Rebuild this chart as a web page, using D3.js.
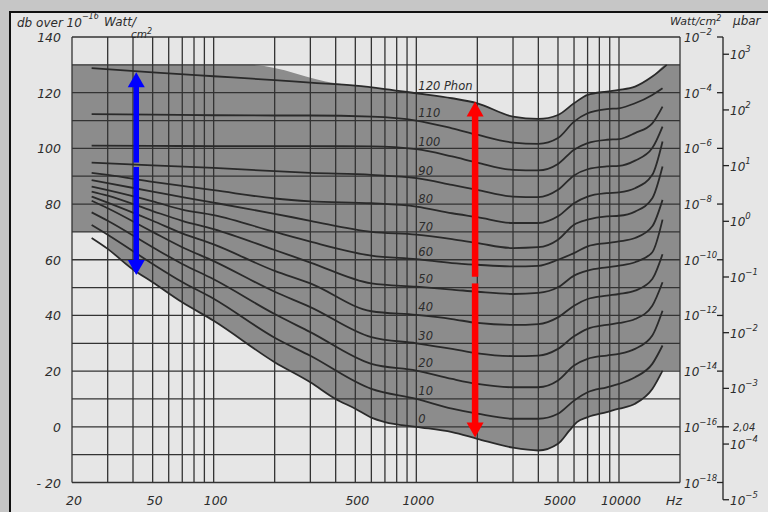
<!DOCTYPE html>
<html>
<head>
<meta charset="utf-8">
<script src="https://cdn.jsdelivr.net/npm/d3@7/dist/d3.min.js"></script>
<style>
body { margin: 0; background: #c6c6c6; }
svg { display: block; }
text { font-family: "DejaVu Sans", sans-serif; font-style: italic; fill: #2c2c2c; }
</style>
</head>
<body>
<svg id="viz" width="768" height="512"></svg>
<script>
// equal loudness contours: [Hz, dB]
const phon0 = [[25,67.8],[30,63.9],[40,56.5],[50,51.9],[70,44.7],[100,38.1],[200,23.2],[300,16],[400,10],[500,6.5],[600,3.3],[700,1.7],[1000,0],[1500,-1.9],[2000,-4.3],[3000,-7.5],[4000,-8.5],[5000,-6.1],[5700,-1.3],[6200,1.7],[7000,3.5],[8700,5.3],[10000,6.5],[12000,8.3],[14600,13.6],[16400,20.2]];
const phon10 = [[25,72.5],[30,69],[50,58.5],[70,52],[100,46],[200,32],[300,25.5],[600,13.6],[1000,10],[1500,6.5],[2000,4.7],[3000,2.9],[4000,2.9],[5000,4.7],[6000,9.4],[7000,12.4],[8700,14.2],[10000,15.4],[12000,17.8],[14600,22.6],[16400,29.2]];
const phon20 = [[25,77],[30,74],[50,64.5],[70,58.5],[100,53],[200,40.5],[300,34],[600,22.6],[1000,20.2],[1500,17.2],[2000,15.4],[3000,14.2],[4000,14.2],[5000,16.6],[6000,22],[7000,24.4],[8700,25.6],[10000,26.2],[12000,28],[14600,32.8],[16400,41.7]];
const phon30 = [[25,81.2],[30,78.5],[50,70],[70,64.5],[100,59.5],[200,48.5],[300,43],[600,32.2],[1000,30],[1500,28],[2000,26.4],[3000,25.4],[4000,25.6],[5000,28],[6000,32.5],[7000,35.2],[8700,36.6],[10000,37.3],[12000,38.7],[14600,43.5],[16400,51.9]];
const phon40 = [[25,82.7],[30,80.5],[50,74],[70,69.5],[100,65.5],[200,56],[300,51.5],[600,41.5],[1000,40.2],[1500,38.7],[2000,37.3],[3000,36.6],[4000,36.9],[5000,39.3],[6000,43.5],[7000,45.9],[8700,47.1],[10000,47.7],[12000,48.9],[14600,53.1],[16400,62]];
const phon50 = [[25,84.5],[30,83],[50,77.5],[70,74],[100,71],[200,63.5],[300,59],[600,51.5],[1000,50.3],[1500,49.3],[2000,48.5],[3000,47.7],[4000,48.1],[5000,50.1],[6000,54.3],[7000,56.1],[8700,57.3],[10000,57.9],[12000,59.1],[14600,62.7],[16400,74.4]];
const phon60 = [[25,86.3],[30,85],[50,81],[70,78],[100,76],[200,70],[300,66.5],[600,61.5],[1000,60.2],[1500,58.8],[2000,58.2],[3000,57.6],[4000,57.8],[5000,60],[6000,62.4],[7000,64.8],[8700,66],[10000,66.6],[12000,67.8],[14600,72],[16400,81.5]];
const phon70 = [[25,88.6],[30,87.5],[50,84.5],[70,82.5],[100,80.5],[200,76.5],[300,74],[600,70],[1000,69],[1500,67.4],[2000,66],[3000,64.2],[4000,64.5],[5000,67.2],[6000,72.6],[7000,74.4],[8700,75.6],[10000,75.8],[12000,77.3],[14600,82.1],[16400,93.5]];
const phon80 = [[25,91.2],[30,90.5],[50,88],[70,86.5],[100,85],[200,82],[300,81],[600,80.3],[1000,79.1],[1500,76.7],[2000,75.3],[3000,73.2],[4000,73.2],[5000,75.6],[6000,80.3],[7000,82.7],[8700,83.9],[10000,84.2],[12000,85.7],[14600,90.5],[16400,102.5]];
const phon90 = [[25,94.9],[50,93.9],[100,93],[200,91.8],[300,91.2],[600,90.5],[1000,89.3],[1500,86.9],[2000,85.1],[3000,82.7],[4000,82.5],[5000,85.1],[6000,90.3],[7000,92.5],[8700,93.5],[10000,93.7],[12000,95.6],[14600,100.1],[16400,107.8]];
const phon100 = [[25,101],[50,100.9],[100,100.8],[300,100.8],[600,100.7],[1000,99.7],[1500,97.1],[2000,94.9],[3000,92.3],[4000,92.1],[5000,94.4],[6000,99.5],[7000,101.9],[8700,103.1],[10000,103.3],[12000,105.5],[14600,109],[16400,115]];
const phon110 = [[25,112.3],[50,112.1],[100,111.9],[200,111.8],[300,111.8],[600,111.4],[1000,110],[1500,107.2],[2000,104.9],[3000,102.1],[4000,101.6],[5000,103.7],[6000,109.6],[7000,112.6],[8700,114.1],[10000,114.4],[12000,116.2],[14600,119.2],[16400,121.6]];
const phon120 = [[25,128.8],[50,127.3],[100,125.9],[200,124.5],[300,123.6],[500,122.5],[700,121.3],[1000,119.8],[1500,118],[2000,116.2],[3000,111.4],[4000,110.6],[5000,112],[6000,116.2],[7000,119.2],[8700,120.4],[10000,121],[12000,122.2],[14600,125.8],[17200,130]];

const contours = [phon0, phon10, phon20, phon30, phon40, phon50, phon60, phon70, phon80, phon90, phon100, phon110, phon120];
const contourLabels = ["0","10","20","30","40","50","60","70","80","90","100","110","120 Phon"];

// shaded band: top edge, and the cut-outs at the low and high end
const shadeTop = [[20,130],[150,130],[400,123.4],[500,122.5],[700,121.3],[1000,119.8],[1500,118],[2000,116.2],[3000,111.4],[4000,110.6],[5000,112],[6000,116.2],[7000,119.2],[8700,120.4],[10000,121],[12000,122.2],[14600,125.8],[17200,130],[20000,130]];
const lowCut = [20, 30, 70];     // Hz from, Hz to, dB
const highCut = [16400, 20000, 20.2];

const freqGrid = [20,30,40,50,60,70,80,90,100,200,300,400,500,600,700,800,900,1000,2000,3000,4000,5000,6000,7000,8000,9000,10000,20000];
const dbGrid = d3.range(-20, 141, 10);
const dbLabels = [140,120,100,80,60,40,20,0,-20];
const freqLabels = [20,50,100,500,1000,5000,10000];
const wattExponents = [-2,-4,-6,-8,-10,-12,-14,-16,-18];
const ubarExponents = [3,2,1,0,-1,-2,-3,-4,-5];

const blueArrow = [41.5, 127.3, 54.5, 94.9, 93.3];   // Hz, top, bottom, gap
const redArrow = [1950, 116.8, -3.8, 53.9, 51.5];

const svg = d3.select("#viz");
const x = d3.scaleLog().domain([20, 20000]).range([72, 680]);
const y = d3.scaleLinear().domain([-20, 140]).range([482.5, 37]);

const paper = "#e6e6e6", shade = "#8c8c8c", ink = "#2a2a2a";

svg.append("rect").attr("width", 768).attr("height", 512).attr("fill", "#c6c6c6");
svg.append("rect").attr("x", 10).attr("y", 12).attr("width", 770).attr("height", 520)
	.attr("fill", paper).attr("stroke", "#111").attr("stroke-width", 2);

// shaded band
let area = d3.area().x(d => x(d[0])).y0(y(-20)).y1(d => y(d[1])).curve(d3.curveMonotoneX);
svg.append("path").datum(shadeTop).attr("d", area).attr("fill", shade);
svg.append("path").datum(phon0).attr("d", area).attr("fill", paper);
svg.append("rect").attr("x", x(lowCut[0])).attr("y", y(lowCut[2]))
	.attr("width", x(lowCut[1]) - x(lowCut[0])).attr("height", y(-20) - y(lowCut[2])).attr("fill", paper);
svg.append("rect").attr("x", x(highCut[0]) - 2).attr("y", y(highCut[2]))
	.attr("width", x(highCut[1]) - x(highCut[0]) + 2).attr("height", y(-20) - y(highCut[2])).attr("fill", paper);

// grid
let grid = svg.append("g").attr("stroke", "#333").attr("stroke-width", 1.3);
grid.selectAll("line.v").data(freqGrid).enter().append("line")
	.attr("x1", d => x(d)).attr("x2", d => x(d)).attr("y1", y(140)).attr("y2", y(-20));
grid.selectAll("line.h").data(dbGrid).enter().append("line")
	.attr("x1", x(20)).attr("x2", x(20000)).attr("y1", d => y(d)).attr("y2", d => y(d));

// contours
let line = d3.line().x(d => x(d[0])).y(d => y(d[1])).curve(d3.curveMonotoneX);
svg.append("g").selectAll("path").data(contours).enter().append("path")
	.attr("d", line).attr("fill", "none").attr("stroke", ink).attr("stroke-width", 1.8);

svg.append("g").selectAll("text").data(contours).enter().append("text")
	.attr("x", x(1000) + 2)
	.attr("y", d => y(d.find(p => p[0] === 1000)[1]) - 3.5)
	.attr("font-size", 11.5)
	.text((d, i) => contourLabels[i]);

// left axis
svg.append("g").selectAll("text").data(dbLabels).enter().append("text")
	.attr("x", 61).attr("y", d => y(d) + 5).attr("text-anchor", "end").attr("font-size", 12.5)
	.text(d => d < 0 ? "- " + (-d) : d);

// bottom axis
svg.append("g").selectAll("text").data(freqLabels).enter().append("text")
	.attr("x", d => x(d) + 2).attr("y", 505).attr("text-anchor", "middle").attr("font-size", 12.5)
	.text(d => d);
svg.append("text").attr("x", 674).attr("y", 505).attr("text-anchor", "middle").attr("font-size", 12.5).text("Hz");

// right axes
const axisX = 723;
svg.append("line").attr("x1", axisX).attr("x2", axisX).attr("y1", y(140)).attr("y2", y(-26.2))
	.attr("stroke", "#222").attr("stroke-width", 1.3);
let watt = svg.append("g").selectAll("g").data(wattExponents).enter().append("g")
	.attr("transform", (d, i) => "translate(0," + y(dbLabels[i]) + ")");
watt.append("line").attr("x1", axisX - 6).attr("x2", axisX).attr("stroke", "#222").attr("stroke-width", 1.3);
let wt = watt.append("text").attr("x", 684).attr("y", 5).attr("font-size", 12);
wt.append("tspan").text("10");
wt.append("tspan").attr("dy", -7).attr("font-size", 8.5).text(d => "\u2212" + (-d));

let ubar = svg.append("g").selectAll("g").data(ubarExponents).enter().append("g")
	.attr("transform", d => "translate(0," + y(20 * Math.log10(Math.pow(10, d) / 2.04e-4)) + ")");
ubar.append("line").attr("x1", axisX).attr("x2", axisX + 6).attr("stroke", "#222").attr("stroke-width", 1.3);
let ut = ubar.append("text").attr("x", axisX + 7).attr("y", 5).attr("font-size", 12);
ut.append("tspan").text("10");
ut.append("tspan").attr("dy", -7).attr("font-size", 8.5).text(d => d < 0 ? "\u2212" + (-d) : d);

svg.append("line").attr("x1", axisX).attr("x2", axisX + 6).attr("y1", y(0)).attr("y2", y(0))
	.attr("stroke", "#222").attr("stroke-width", 1.3);
svg.append("text").attr("x", axisX + 10).attr("y", y(0) + 4).attr("font-size", 10).text("2,04");

// titles
let t1 = svg.append("text").attr("x", 17).attr("y", 27).attr("font-size", 12);
t1.append("tspan").text("db over 10");
t1.append("tspan").attr("dy", -8).attr("font-size", 8).text("\u221216");
svg.append("text").attr("x", 104).attr("y", 26).attr("font-size", 12).text("Watt/");
let t2 = svg.append("text").attr("x", 131).attr("y", 38).attr("font-size", 10.5);
t2.append("tspan").text("cm");
t2.append("tspan").attr("dy", -4).attr("font-size", 8).text("2");

let t3 = svg.append("text").attr("x", 670).attr("y", 25).attr("font-size", 11);
t3.append("tspan").text("Watt/cm");
t3.append("tspan").attr("dy", -4).attr("font-size", 8).text("2");
svg.append("text").attr("x", 733).attr("y", 25).attr("font-size", 12).text("\u03bcbar");

// arrows
function drawArrow(a, color, w) {
	let g = svg.append("g").attr("fill", color).attr("stroke", "none");
	let cx = x(a[0]);
	let top = y(a[1]), bot = y(a[2]);
	let head = 15, hw = 8.5;
	g.append("rect").attr("x", cx - w / 2).attr("y", top + head - 1).attr("width", w).attr("height", y(a[3]) - top - head + 1);
	g.append("rect").attr("x", cx - w / 2).attr("y", y(a[4])).attr("width", w).attr("height", bot - head - y(a[4]) + 1);
	g.append("path").attr("d", "M" + cx + "," + top + "L" + (cx - hw) + "," + (top + head) + "L" + (cx + hw) + "," + (top + head) + "Z");
	g.append("path").attr("d", "M" + cx + "," + bot + "L" + (cx - hw) + "," + (bot - head) + "L" + (cx + hw) + "," + (bot - head) + "Z");
}
drawArrow(blueArrow, "#0000ff", 5.5);
drawArrow(redArrow, "#ff0000", 6.5);
</script>
</body>
</html>
